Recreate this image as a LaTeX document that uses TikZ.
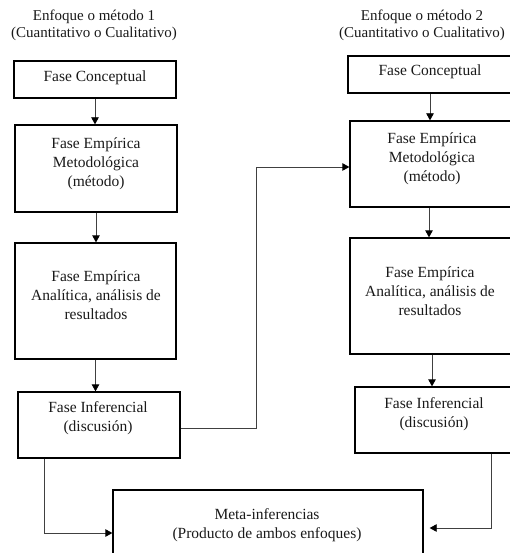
\documentclass[tikz,border=0pt]{standalone}
\usepackage{fontspec}
\setmainfont{Liberation Serif}
\usetikzlibrary{arrows.meta}
\begin{document}
\begin{tikzpicture}[x=1pt,y=-1pt,
  box/.style={draw=black, line width=1.3pt, inner sep=0pt},
  txt/.style={align=center, font=\fontsize{15.5}{19}\selectfont, inner sep=0pt, text=black!90},
  conn/.style={draw=black!75, line width=0.8pt},
  arr/.style={conn, -{Triangle[length=7pt,width=7.5pt,fill=black,color=black]}}]
\useasboundingbox (0,0) rectangle (509,553);

% titles
\node[txt, font=\fontsize{15}{17}\selectfont] (t1) at (94,25) {Enfoque o método 1\\(Cuantitativo o Cualitativo)};
\node[txt, font=\fontsize{15}{17}\selectfont] (t2) at (422,25) {Enfoque o método 2\\(Cuantitativo o Cualitativo)};

% left column boxes
\node[box, minimum width=162pt, minimum height=37pt] (c1) at (95,79.5) {};
\node[box, minimum width=162pt, minimum height=87pt] (m1) at (96,168.5) {};
\node[box, minimum width=161pt, minimum height=116pt] (a1) at (95.5,301) {};
\node[box, minimum width=162pt, minimum height=66pt] (i1) at (99,425) {};

% right column boxes
\node[box, minimum width=164pt, minimum height=37pt] (c2) at (430,74.5) {};
\node[box, minimum width=164pt, minimum height=86pt] (m2) at (432,164) {};
\node[box, minimum width=164pt, minimum height=116pt] (a2) at (432,296) {};
\node[box, minimum width=160pt, minimum height=66pt] (i2) at (435,420) {};

% meta box
\node[box, minimum width=310pt, minimum height=80pt] (me) at (268,530) {};

% texts
\node[txt] (c1t) at (95,78) {Fase Conceptual};
\node[txt] (m1t) at (96,164) {Fase Empírica\\Metodológica\\(método)};
\node[txt] (a1t) at (96,295) {Fase Empírica\\Analítica, análisis de\\resultados};
\node[txt] (i1t) at (98,418) {Fase Inferencial\\(discusión)};
\node[txt] (c2t) at (430,72) {Fase Conceptual};
\node[txt] (m2t) at (432,159) {Fase Empírica\\Metodológica\\(método)};
\node[txt] (a2t) at (430,291) {Fase Empírica\\Analítica, análisis de\\resultados};
\node[txt] (i2t) at (434,414.5) {Fase Inferencial\\(discusión)};
\node[txt] (met) at (267,525) {Meta-inferencias\\(Producto de ambos enfoques)};

% vertical arrows
\draw[arr] (c1.south) -- (c1.south |- m1.north);
\draw[arr] (m1.south) -- (m1.south |- a1.north);
\draw[arr] (a1.south) -- (a1.south |- i1.north);
\draw[arr] (c2.south) -- (c2.south |- m2.north);
\draw[arr] ([xshift=-3pt]m2.south) -- ([xshift=-3pt]m2.south |- a2.north);
\draw[arr] (a2.south) -- (a2.south |- i2.north);

% cross connectors
\draw[arr] ([yshift=-3pt]i1.east) -- ++(76,0) |- ([yshift=-3pt]m2.west);
\draw[arr] ([xshift=27pt]i1.south west) |- ([yshift=-3pt]me.west);
\draw[arr, shorten >=6pt] ([xshift=137pt]i2.south west) |- ([yshift=2pt]me.east);
\end{tikzpicture}
\end{document}
